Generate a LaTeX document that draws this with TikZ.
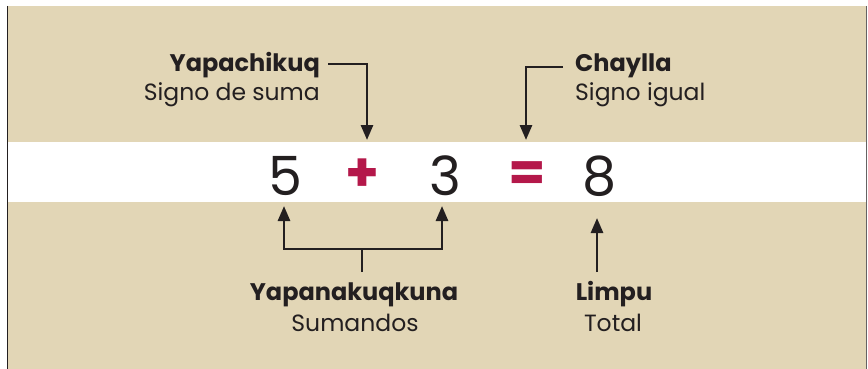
\documentclass[tikz,border=0pt]{standalone}
\usepackage{fontspec}
\setmainfont{Poppins}
\usetikzlibrary{arrows.meta}
\definecolor{sand}{RGB}{226,214,182}
\definecolor{signred}{RGB}{180,24,74}
\definecolor{ink}{RGB}{35,31,32}
\tikzset{
  pointer/.style={draw=ink, line width=2.7pt, -{Triangle[width=12pt,length=15pt]}},
  bracket/.style={draw=ink, line width=2.7pt},
  termname/.style={inner sep=0pt, font=\fontsize{24}{26}\selectfont\bfseries, text=ink},
  termgloss/.style={inner sep=0pt, font=\fontsize{23.5}{26}\selectfont, text=ink},
  digit/.style={inner sep=0pt, font=\fontsize{54}{56}\selectfont, text=ink},
  sign/.style={inner sep=0pt, font=\fontsize{54}{56}\selectfont\bfseries, text=signred}
}
\begin{document}
\begin{tikzpicture}[x=1pt,y=-1pt]
  \useasboundingbox (0,0) rectangle (868,369);
  % panel and white equation band
  \fill[white] (0,0) rectangle (868,369);
  \fill[sand] (8,6) rectangle (866,369);
  \fill[white] (8,142) rectangle (866,202);
  \draw[ink, line width=1.2pt] (7.5,6) -- (7.5,369);
  \draw[ink!70, line width=1.2pt] (866.5,6) -- (866.5,369);

  % the equation
  \node[digit, anchor=base] (n5) at (285,195) {5};
  \node[sign, anchor=base] (plus) at (362,191) {+};
  \node[digit, anchor=base] (n3) at (445,195) {3};
  \node[sign, anchor=base] (eq) at (527,191) {=};
  \node[digit, anchor=base] (n8) at (600,195) {8};

  % labels above
  \node[termname, anchor=base east] (yap) at (320,72) {Yapachikuq};
  \node[termgloss, anchor=base east] (yapg) at (320,100) {Signo de suma};
  \node[termname, anchor=base west] (chay) at (575,72) {Chaylla};
  \node[termgloss, anchor=base west] (chayg) at (575,100) {Signo igual};

  % labels below
  \node[termname, anchor=base] (suma) at (354,300) {Yapanakuqkuna};
  \node[termgloss, anchor=base] (sumag) at (355,331) {Sumandos};
  \node[termname, anchor=base] (limp) at (614,300) {Limpu};
  \node[termgloss, anchor=base] (limpg) at (613,331) {Total};

  % connectors
  \coordinate (yapend) at ([xshift=8pt,yshift=8pt]yap.base east);
  \coordinate (plustop) at (367,140);
  \draw[pointer] (yapend) -| (plustop);
  \coordinate (chayend) at ([xshift=-12pt,yshift=5pt]chay.base west);
  \coordinate (eqtop) at (526,140);
  \draw[pointer] (chayend) -| (eqtop);

  \coordinate (lefttip) at (284,206);
  \coordinate (righttip) at (442,206);
  \coordinate (barl) at (284,249);
  \coordinate (barr) at (442,249);
  \coordinate (stem) at (362,249);
  \coordinate (stemend) at (362,272);
  \draw[bracket] (stemend) -- (stem);
  \draw[pointer] (stem) -- (barl) -- (lefttip);
  \draw[pointer] (stem) -- (barr) -- (righttip);

  \coordinate (totaltip) at (597,218);
  \coordinate (totalend) at (597,272);
  \draw[pointer] (totalend) -- (totaltip);
\end{tikzpicture}
\end{document}
